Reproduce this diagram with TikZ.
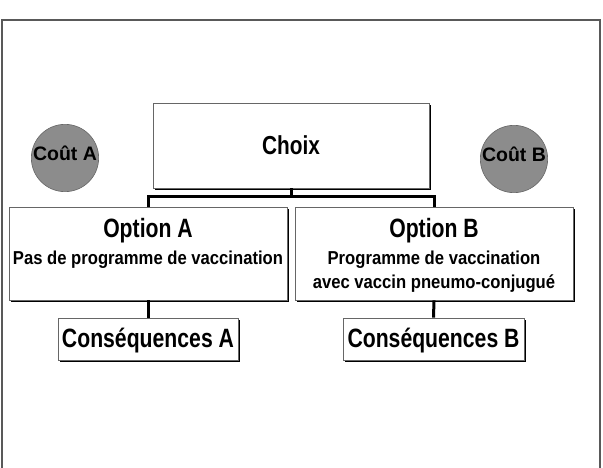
\documentclass[tikz,border=0pt]{standalone}
\usepackage{fontspec}
\setmainfont{Liberation Sans}
\newfontfamily\narrowfont[FakeStretch=0.8]{Liberation Sans}
\newfontfamily\subfont[FakeStretch=0.89]{Liberation Sans}
\begin{document}
\begin{tikzpicture}[x=1pt,y=-1pt,
  box/.style={draw=black!60, line width=0.8pt, fill=white, inner sep=0pt, align=center,
    preaction={fill=black, transform canvas={shift={(1.6pt,-1.6pt)}}}},
  title/.style={anchor=base, inner sep=0pt, font=\narrowfont\bfseries\fontsize{26.5}{28}\selectfont},
  sub/.style={anchor=base, inner sep=0pt, font=\subfont\bfseries\fontsize{18.7}{22}\selectfont},
  cost/.style={circle, draw=black!60, line width=0.6pt, fill=black!45, minimum size=65pt, inner sep=0pt,
    text height=14pt, text depth=8pt, font=\bfseries\fontsize{19.5}{21}\selectfont},
  link/.style={line width=3pt, black}]
\useasboundingbox (0,0) rectangle (603,468);
\draw[black!65, line width=1.4pt] (2,470) -- (2,20) -- (600,20) -- (600,470);
\node[box, minimum width=276pt, minimum height=85pt, text height=19pt, text depth=0pt,
  font=\narrowfont\bfseries\fontsize{26}{28}\selectfont] (choix) at (291,145.5) {Choix};
\node[cost] (coutA) at (65,158) {Coût A};
\node[cost] (coutB) at (514,159) {Coût B};
\node[box, minimum width=278pt, minimum height=93pt] (optA) at (148,253.5) {};
\node[title] (optAtitle) at (148,237) {Option A};
\node[sub] (optAtext) at (148,265) {Pas de programme de vaccination};
\node[box, minimum width=278pt, minimum height=93pt] (optB) at (434,253.5) {};
\node[title] (optBtitle) at (434,237) {Option B};
\node[sub] (optBtext1) at (434,265) {Programme de vaccination};
\node[sub] (optBtext2) at (434,288) {avec vaccin pneumo-conjugué};
\node[box, minimum width=180pt, minimum height=42pt, text height=19pt, text depth=3pt,
  font=\narrowfont\bfseries\fontsize{26.5}{28}\selectfont] (consA) at (148,339) {Conséquences A};
\node[box, minimum width=181pt, minimum height=42pt, text height=19pt, text depth=3pt,
  font=\narrowfont\bfseries\fontsize{26.5}{28}\selectfont] (consB) at (433.5,339) {Conséquences B};
\coordinate (mid) at (291,197);
\draw[link] (choix.south) -- (mid);
\draw[link] (optA.north) -- (optA.north |- mid) -- (optB.north |- mid) -- (optB.north);
\draw[link] (optA.south) -- (consA.north);
\draw[link] (optB.south) -- (consB.north);
\end{tikzpicture}
\end{document}
